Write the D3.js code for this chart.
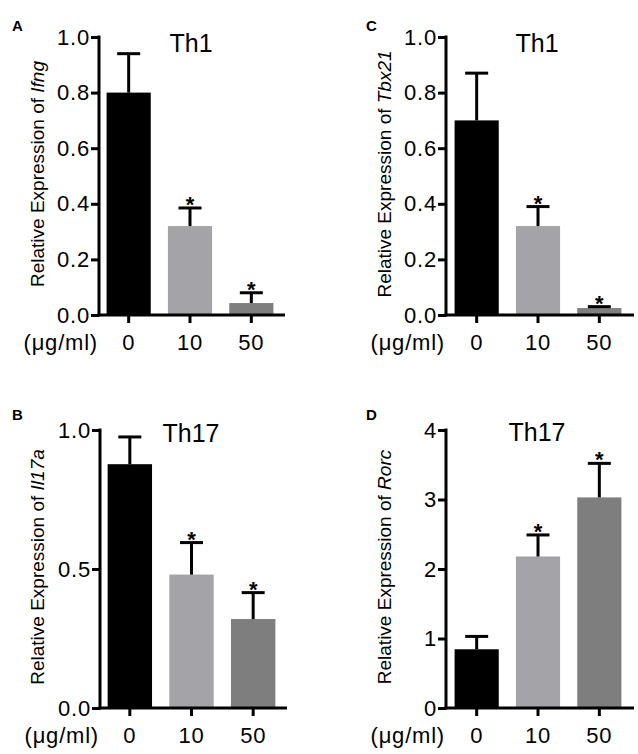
<!DOCTYPE html>
<html>
<head>
<meta charset="utf-8">
<script src="https://cdn.jsdelivr.net/npm/d3@7"></script>
<style>
  html, body { margin: 0; padding: 0; background: #fff; }
  svg { display: block; font-family: Arial, "Liberation Sans", Helvetica, sans-serif; }
</style>
</head>
<body>
<svg id="chart" width="638" height="754"></svg>
<script>
// ---------------- data ----------------
const categories = ["0", "10", "50"];
const unitLabel = "(\u03bcg/ml)";
const barColors = ["#000000", "#a4a4a8", "#7e7e7e"];

const ifngMean  = [0.80, 0.32, 0.043];
const ifngSem   = [0.14, 0.065, 0.037];
const tbx21Mean = [0.70, 0.32, 0.025];
const tbx21Sem  = [0.17, 0.07, 0.005];
const il17aMean = [0.877, 0.48, 0.32];
const il17aSem  = [0.098, 0.115, 0.095];
const rorcMean  = [0.845, 2.18, 3.03];
const rorcSem   = [0.185, 0.31, 0.49];

const significant = [false, true, true];

const ticksAC = [0, 0.2, 0.4, 0.6, 0.8, 1.0];
const ticksB  = [0, 0.5, 1.0];
const ticksD  = [0, 1, 2, 3, 4];

// ---------------- layout ----------------
const panels = [
  { letter: "A", title: "Th1",  gene: "Ifng",  mean: ifngMean,  sem: ifngSem,  ticks: ticksAC, fmt: d3.format(".1f"), yMax: 1.0,
    ax: 99,  yTop: 37,  yBot: 315, xr: [98, 282],   axEnd: 285, letterX: 12,  letterY: 31,  titleX: 191, titleY: 52,  labX: 44 },
  { letter: "C", title: "Th1",  gene: "Tbx21", mean: tbx21Mean, sem: tbx21Sem, ticks: ticksAC, fmt: d3.format(".1f"), yMax: 1.0,
    ax: 446, yTop: 37,  yBot: 315, xr: [446, 630],  axEnd: 634, letterX: 366, letterY: 31,  titleX: 537, titleY: 52,  labX: 391 },
  { letter: "B", title: "Th17", gene: "Il17a", mean: il17aMean, sem: il17aSem, ticks: ticksB,  fmt: d3.format(".1f"), yMax: 1.0,
    ax: 100, yTop: 430, yBot: 708, xr: [99, 284],   axEnd: 287, letterX: 12,  letterY: 420, titleX: 191, titleY: 442, labX: 44 },
  { letter: "D", title: "Th17", gene: "Rorc",  mean: rorcMean,  sem: rorcSem,  ticks: ticksD,  fmt: d3.format("d"),   yMax: 4,
    ax: 446, yTop: 430, yBot: 708, xr: [446, 630],  axEnd: 634, letterX: 366, letterY: 420, titleX: 537, titleY: 441, labX: 391 }
];

const svg = d3.select("#chart");
const tickFont = 22;

panels.forEach(p => {
  const g = svg.append("g");
  const y = d3.scaleLinear().domain([0, p.yMax]).range([p.yBot, p.yTop]);
  const x = d3.scaleBand().domain(categories).range(p.xr).paddingInner(0.28).paddingOuter(0.14);

  // bars
  const data = categories.map((c, i) => ({ c, i, m: p.mean[i], s: p.sem[i] }));
  g.selectAll("rect.bar").data(data).enter().append("rect")
    .attr("class", "bar")
    .attr("x", d => x(d.c))
    .attr("width", x.bandwidth())
    .attr("y", d => y(d.m))
    .attr("height", d => y(0) - y(d.m))
    .attr("fill", d => barColors[d.i]);

  // error bars
  const capW = 23;
  const eb = g.selectAll("g.err").data(data).enter().append("g").attr("class", "err");
  eb.append("line")
    .attr("x1", d => x(d.c) + x.bandwidth() / 2).attr("x2", d => x(d.c) + x.bandwidth() / 2)
    .attr("y1", d => y(d.m)).attr("y2", d => y(d.m + d.s))
    .attr("stroke", "#000").attr("stroke-width", 3);
  eb.append("line")
    .attr("x1", d => x(d.c) + x.bandwidth() / 2 - capW / 2).attr("x2", d => x(d.c) + x.bandwidth() / 2 + capW / 2)
    .attr("y1", d => y(d.m + d.s)).attr("y2", d => y(d.m + d.s))
    .attr("stroke", "#000").attr("stroke-width", 3);

  // significance stars
  g.selectAll("text.star").data(data.filter(d => significant[d.i])).enter().append("text")
    .attr("class", "star")
    .attr("x", d => x(d.c) + x.bandwidth() / 2)
    .attr("y", d => y(d.m + d.s) + 4)
    .attr("text-anchor", "middle")
    .attr("font-size", 22)
    .attr("font-weight", "bold")
    .text("*");

  // y axis
  const yAxis = d3.axisLeft(y).tickValues(p.ticks).tickFormat(p.fmt).tickSize(8).tickPadding(1);
  const ya = g.append("g").attr("transform", `translate(${p.ax},0)`).call(yAxis);
  ya.select(".domain").remove();
  ya.selectAll(".tick line").attr("stroke", "#000").attr("stroke-width", 3);
  ya.selectAll(".tick text").attr("font-size", tickFont).attr("letter-spacing", 0.8)
    .attr("font-family", "Arial, 'Liberation Sans', sans-serif").attr("fill", "#000");
  g.append("line").attr("x1", p.ax).attr("x2", p.ax).attr("y1", y(p.yMax) - 1.5).attr("y2", y(0) + 1.5)
    .attr("stroke", "#000").attr("stroke-width", 3);

  // x axis
  const xAxis = d3.axisBottom(x).tickSize(8).tickPadding(11);
  const xa = g.append("g").attr("transform", `translate(0,${p.yBot})`).call(xAxis);
  xa.select(".domain").remove();
  xa.selectAll(".tick line").attr("stroke", "#000").attr("stroke-width", 3);
  xa.selectAll(".tick text").attr("font-size", tickFont).attr("letter-spacing", 0.8)
    .attr("font-family", "Arial, 'Liberation Sans', sans-serif").attr("fill", "#000");
  g.append("line").attr("x1", p.ax - 1.5).attr("x2", p.axEnd).attr("y1", y(0)).attr("y2", y(0))
    .attr("stroke", "#000").attr("stroke-width", 3);

  // unit label
  g.append("text")
    .attr("x", p.ax - 1)
    .attr("y", p.yBot + 35)
    .attr("text-anchor", "end")
    .attr("font-size", tickFont)
    .attr("letter-spacing", 0.8)
    .text(unitLabel);

  // y axis title
  const yt = g.append("text")
    .attr("transform", `translate(${p.labX},${(p.yTop + p.yBot) / 2 - 2}) rotate(-90)`)
    .attr("text-anchor", "middle")
    .attr("font-size", 19);
  yt.append("tspan").text("Relative Expression of ");
  yt.append("tspan").attr("font-style", "italic").text(p.gene);

  // title
  g.append("text")
    .attr("x", p.titleX).attr("y", p.titleY)
    .attr("text-anchor", "middle")
    .attr("font-size", 25)
    .text(p.title);

  // panel letter
  g.append("text")
    .attr("x", p.letterX).attr("y", p.letterY)
    .attr("font-size", 15).attr("font-weight", "bold")
    .text(p.letter);
});
</script>
</body>
</html>
